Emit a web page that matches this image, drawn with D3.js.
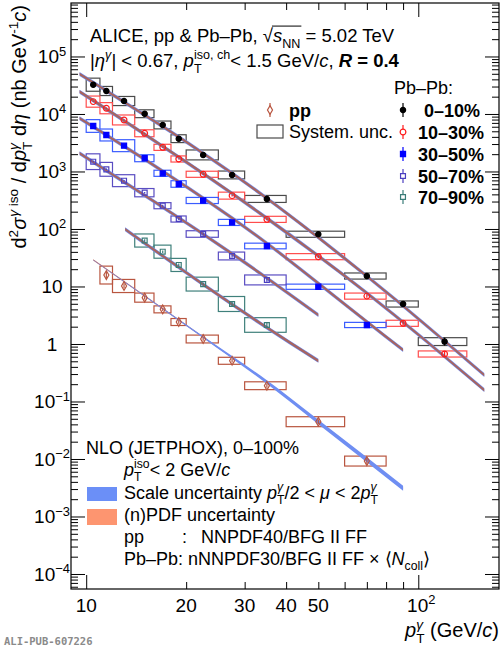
<!DOCTYPE html>
<html>
<head>
<meta charset="utf-8">
<script src="https://cdn.jsdelivr.net/npm/d3@7"></script>
<style>
body{margin:0;background:#fff}
text{font-family:"Liberation Sans",Arial,sans-serif;white-space:pre}
</style>
</head>
<body>
<svg id="chart" width="503" height="650"></svg>
<script>
// ---- data ----
var pbBins = [[10,11],[11,12],[12,14],[14,16],[16,18],[18,20],[20,25],[25,30],[30,40],[40,60],[60,80],[80,100],[100,140]];
var ppBins = [[11,12],[12,14],[14,16],[16,18],[18,20],[20,25],[25,30],[30,40],[40,60],[60,80]];

var ppVal  = [15.8, 10.2, 6.4, 4.0, 2.41, 1.22, 0.51, 0.188, 0.0445, 0.0092];
var ppSys  = [0.43, 0.30, 0.20, 0.15, 0.15, 0.17, 0.15, 0.17, 0.22, 0.22];
var ppStat = [0.15, 0.10, 0.08, 0.07, 0.07, 0.07, 0.07, 0.08, 0.10, 0.12];

var c0010Val  = [32300, 25100, 16800, 10100, 6440, 3720, 1940, 870, 333, 81, 15.2, 4.96, 1.1];
var c0010Sys  = [0.30, 0.20, 0.20, 0.17, 0.17, 0.17, 0.22, 0.17, 0.15, 0.13, 0.13, 0.13, 0.17];
var c0010Stat = [0.01, 0.01, 0.01, 0.01, 0.01, 0.02, 0.02, 0.03, 0.04, 0.05, 0.07, 0.09, 0.17];

var c1030Val  = [16400, 12600, 7870, 4620, 2630, 1650, 894, 380, 147, 33, 6.8, 2.29, 0.67];
var c1030Sys  = [0.25, 0.25, 0.22, 0.15, 0.13, 0.13, 0.13, 0.15, 0.13, 0.13, 0.13, 0.13, 0.13];
var c1030Stat = [0.02, 0.02, 0.02, 0.02, 0.02, 0.02, 0.03, 0.03, 0.04, 0.05, 0.07, 0.09, 0.12];

var c3050Val  = [6180, 4310, 2810, 1700, 930, 606, 313, 130, 50.6, 9.9, 2.14];
var c3050Sys  = [0.29, 0.27, 0.27, 0.15, 0.13, 0.14, 0.13, 0.13, 0.12, 0.11, 0.11];
var c3050Stat = [0.02, 0.02, 0.02, 0.02, 0.03, 0.03, 0.03, 0.04, 0.05, 0.07, 0.10];

var c5070Val  = [1480, 1090, 692, 428, 254, 149, 81.8, 33.9, 13.0];
var c5070Sys  = [0.37, 0.32, 0.27, 0.18, 0.13, 0.13, 0.14, 0.17, 0.22];
var c5070Stat = [0.03, 0.03, 0.03, 0.03, 0.04, 0.04, 0.05, 0.06, 0.08];

var c7090Val  = [63, 40.3, 23.7, 11.0, 4.96, 2.14];
var c7090Sys  = [0.30, 0.30, 0.30, 0.32, 0.35, 0.34];
var c7090Stat = [0.05, 0.05, 0.06, 0.06, 0.08, 0.10];

// NLO JETPHOX curves
var th0010Pt = [9.55, 33.4, 69.9, 158], th0010Val = [49600, 417, 15.2, 0.289];
var th1030Pt = [9.55, 33.4, 70, 158],   th1030Val = [24400, 187, 7.7, 0.158];
var th3050Pt = [9.55, 33.4, 70, 90],    th3050Val = [8420, 68.9, 2.44, 0.787];
var th5070Pt = [9.55, 33.4, 50],        th5070Val = [2073, 17.0, 3.19];
var th7090Pt = [13.1, 33.4, 50],        th7090Val = [99, 2.3, 0.51];
var thPpPt   = [10.5, 22.5, 35, 50, 70, 90];
var thPpVal  = [28.9, 1.32, 0.218, 0.044, 0.0097, 0.0031];
var thPpScale = [0.01, 0.035, 0.075, 0.095, 0.105, 0.11];
var thPpPdf   = [0.025, 0.025, 0.025, 0.025, 0.025, 0.025];
var thPbScale = 0.085, thPbPdf = 0.055;

var xTickMajor = [10, 100];
var xTickMinor = [20, 30, 40, 50, 60, 70, 80, 90];
var xLabels = [10, 20, 30, 40, 50, 100];
var yDecades = [-4, -3, -2, -1, 0, 1, 2, 3, 4, 5];

// ---- layout ----
var svg = d3.select('#chart');
var L = 71, R = 499, T = 3, B = 589;
var x = d3.scaleLog().domain([9, 175]).range([L, R]);
var y = d3.scaleLog().domain([Math.pow(10, -4.261), Math.pow(10, 5.93)]).range([B, T]);

// rich text: segments laid out one after another, sup/sub and stacked indices
function rich(parent, px, py, size, segs, anchor){
  var g = parent.append('g');
  var cx = 0, ps = 0, pe = 0, ov0 = null, ov1 = null;
  segs.forEach(function(s){
    if (typeof s === 'string') s = {t: s};
    var fs = (s.sup || s.sub) ? size * 0.68 : size;
    var dy = s.sup ? -size * 0.42 : (s.sub ? size * 0.3 : 0);
    var sx = s.stack ? ps : cx + (s.dx || 0);
    var t = g.append('text').attr('x', sx).attr('y', dy).attr('font-size', fs)
      .attr('fill', s.fill || '#000')
      .style('font-style', s.i ? 'italic' : 'normal')
      .style('font-weight', s.b ? 'bold' : 'normal')
      .text(s.t);
    var w = t.node().getComputedTextLength();
    if (s.stack) { pe = Math.max(pe, sx + w); cx = pe; }
    else { ps = sx; pe = sx + w; cx = pe; }
    if (s.ov) { if (ov0 === null) ov0 = sx; ov1 = sx + w; }
  });
  if (ov0 !== null) g.append('line').attr('x1', ov0 - 1).attr('x2', ov1 + 1)
    .attr('y1', -size * 0.86).attr('y2', -size * 0.86).attr('stroke', '#000').attr('stroke-width', 1);
  var sh = anchor === 'end' ? -cx : (anchor === 'middle' ? -cx / 2 : 0);
  g.attr('transform', 'translate(' + (px + sh) + ',' + py + ')');
  return g;
}

// series table (styles + arrays above)
var series = [
  {bins: ppBins, val: ppVal, sys: ppSys, stat: ppStat, col: '#b9553f', box: '#b9553f', sym: d3.symbolDiamond, size: 22, fill: 'none'},
  {bins: pbBins, val: c0010Val, sys: c0010Sys, stat: c0010Stat, col: '#000', box: '#4a4a4a', sym: d3.symbolCircle, size: 22, fill: '#000'},
  {bins: pbBins, val: c1030Val, sys: c1030Sys, stat: c1030Stat, col: '#ff1a1a', box: '#ff4d4d', sym: d3.symbolCircle, size: 26, fill: 'none'},
  {bins: pbBins, val: c3050Val, sys: c3050Sys, stat: c3050Stat, col: '#0000ff', box: '#3a5cff', sym: d3.symbolSquare, size: 26, fill: '#0000ff'},
  {bins: pbBins, val: c5070Val, sys: c5070Sys, stat: c5070Stat, col: '#4b3fc0', box: '#5a4dc2', sym: d3.symbolSquare, size: 24, fill: 'none'},
  {bins: pbBins.slice(3), val: c7090Val, sys: c7090Sys, stat: c7090Stat, col: '#3a7c78', box: '#3f807b', sym: d3.symbolSquare, size: 24, fill: 'none'}
];
series.forEach(function(s){
  s.pts = s.val.map(function(v, i){
    var b = s.bins[i];
    return {lo: b[0], hi: b[1], pt: (b[0] + b[1]) / 2, v: v, sys: s.sys[i], st: s.stat[i]};
  });
});

function rep(n, v){ return d3.range(n).map(function(){ return v; }); }
var curves = [
  {pt: th0010Pt, val: th0010Val, scale: rep(4, thPbScale), pdf: rep(4, thPbPdf), pdfTop: true},
  {pt: th1030Pt, val: th1030Val, scale: rep(4, thPbScale), pdf: rep(4, thPbPdf), pdfTop: true},
  {pt: th3050Pt, val: th3050Val, scale: rep(4, thPbScale), pdf: rep(4, thPbPdf), pdfTop: true},
  {pt: th5070Pt, val: th5070Val, scale: rep(3, thPbScale), pdf: rep(3, thPbPdf), pdfTop: true},
  {pt: th7090Pt, val: th7090Val, scale: rep(3, thPbScale), pdf: rep(3, thPbPdf), pdfTop: true},
  {pt: thPpPt, val: thPpVal, scale: thPpScale, pdf: thPpPdf, pdfTop: false}
];

// ---- systematic boxes ----
series.forEach(function(s){
  svg.append('g').selectAll('rect').data(s.pts).enter().append('rect')
    .attr('x', function(d){ return x(d.lo); })
    .attr('width', function(d){ return x(d.hi) - x(d.lo); })
    .attr('y', function(d){ return y(d.v * (1 + d.sys)); })
    .attr('height', function(d){ return y(d.v / (1 + d.sys)) - y(d.v * (1 + d.sys)); })
    .attr('fill', 'none').attr('stroke', s.box).attr('stroke-width', 1.2);
});

// ---- theory bands ----
function band(c, key){
  var pts = c.pt.map(function(p, i){ return {pt: p, v: c.val[i], u: c[key][i]}; });
  return d3.area().curve(d3.curveMonotoneX)
    .x(function(d){ return x(d.pt); })
    .y0(function(d){ return y(d.v / (1 + d.u)); })
    .y1(function(d){ return y(d.v * (1 + d.u)); })(pts);
}
curves.forEach(function(c){
  var order = c.pdfTop ? ['scale', 'pdf'] : ['pdf', 'scale'];
  order.forEach(function(k){
    svg.append('path').attr('d', band(c, k))
      .attr('fill', k === 'scale' ? '#6f8ef2' : (c.pdfTop ? '#a8645e' : '#c8664f'))
      .attr('stroke', 'none');
  });
});

// ---- data markers ----
series.forEach(function(s){
  var g = svg.append('g');
  g.selectAll('line').data(s.pts).enter().append('line')
    .attr('x1', function(d){ return x(d.pt); }).attr('x2', function(d){ return x(d.pt); })
    .attr('y1', function(d){ return y(d.v * (1 + d.st)); })
    .attr('y2', function(d){ return y(d.v / (1 + d.st)); })
    .attr('stroke', s.col).attr('stroke-width', 1.2);
  g.selectAll('path').data(s.pts).enter().append('path')
    .attr('d', d3.symbol().type(s.sym).size(s.size))
    .attr('transform', function(d){ return 'translate(' + x(d.pt) + ',' + y(d.v) + ')'; })
    .attr('fill', s.fill === 'none' ? '#fff' : s.fill).attr('fill-opacity', s.fill === 'none' ? 0 : 1)
    .attr('stroke', s.col).attr('stroke-width', 1.2);
});

// ---- frame & ticks ----
svg.append('rect').attr('x', L).attr('y', T).attr('width', R - L).attr('height', B - T)
  .attr('fill', 'none').attr('stroke', '#000').attr('stroke-width', 1.2);

var yMajor = yDecades.map(function(d){ return Math.pow(10, d); });
var yMinor = [];
d3.range(-5, 6).forEach(function(d){
  d3.range(2, 10).forEach(function(k){
    var v = k * Math.pow(10, d);
    if (v > y.domain()[0] && v < y.domain()[1]) yMinor.push(v);
  });
});
function ticks(axis, vals, len, tr){
  var g = svg.append('g').attr('transform', tr)
    .call(axis.tickValues(vals).tickSizeInner(-len).tickSizeOuter(0).tickFormat(''));
  g.select('.domain').remove();
  g.selectAll('line').attr('stroke', '#000').attr('stroke-width', 1);
}
ticks(d3.axisBottom(x), xTickMajor, 14, 'translate(0,' + B + ')');
ticks(d3.axisBottom(x), xTickMinor, 7, 'translate(0,' + B + ')');
ticks(d3.axisTop(x), xTickMajor, 14, 'translate(0,' + T + ')');
ticks(d3.axisTop(x), xTickMinor, 7, 'translate(0,' + T + ')');
ticks(d3.axisLeft(y), yMajor, 14, 'translate(' + L + ',0)');
ticks(d3.axisLeft(y), yMinor, 7, 'translate(' + L + ',0)');
ticks(d3.axisRight(y), yMajor, 14, 'translate(' + R + ',0)');
ticks(d3.axisRight(y), yMinor, 7, 'translate(' + R + ',0)');

// tick labels
xLabels.forEach(function(v){
  var segs = v === 100 ? ['10', {t: '2', sup: 1}] : [String(v)];
  rich(svg, x(v) + (v === 100 ? 3 : 0), 612, 19, segs, 'middle');
});
yDecades.forEach(function(d){
  var segs = d === 0 ? ['1'] : (d === 1 ? ['10'] : ['10', {t: d < 0 ? '\u2212' + (-d) : String(d), sup: 1}]);
  rich(svg, 52, y(Math.pow(10, d)) + 7, 19, segs, 'middle');
});

// axis titles
rich(svg, R, 637, 20, [{t: 'p', i: 1}, {t: '\u03b3', i: 1, sup: 1}, {t: 'T', sub: 1, stack: 1}, ' (GeV/', {t: 'c', i: 1}, ')'], 'end');
var yt = svg.append('g').attr('transform', 'translate(26,5) rotate(-90)');
rich(yt, 0, 0, 20, ['d', {t: '2', sup: 1}, {t: '\u03c3', i: 1}, {t: '\u03b3', i: 1, sup: 1, dx: 1}, {t: ' iso', sup: 1},
  ' / d', {t: 'p', i: 1}, {t: '\u03b3', i: 1, sup: 1}, {t: 'T', sub: 1, stack: 1}, ' d', {t: '\u03b7', i: 1},
  ' (nb GeV', {t: '-1', sup: 1}, {t: 'c', i: 1}, ')'], 'end');

// header
rich(svg, 90, 42, 18.5, ['ALICE, pp & Pb\u2013Pb, \u221a', {t: 's', i: 1, ov: 1}, {t: 'NN', sub: 1, ov: 1}, ' = 5.02 TeV']);
rich(svg, 90, 67, 18.5, ['|', {t: '\u03b7', i: 1}, {t: '\u03b3', i: 1, sup: 1}, '| < 0.67, ', {t: 'p', i: 1},
  {t: 'iso, ch', sup: 1}, {t: 'T', sub: 1, stack: 1}, '< 1.5 GeV/', {t: 'c', i: 1}, ', ',
  {t: 'R', i: 1, b: 1}, {t: ' = 0.4', b: 1}]);

// legend: data
var legRows = [110, 132, 154, 176, 197];
var legNames = ['0\u201310%', '10\u201330%', '30\u201350%', '50\u201370%', '70\u201390%'];
function legMarker(s, cx, cy){
  svg.append('line').attr('x1', cx).attr('x2', cx).attr('y1', cy - 7).attr('y2', cy + 7)
    .attr('stroke', s.col).attr('stroke-width', 1.2);
  svg.append('path').attr('d', d3.symbol().type(s.sym).size(s.size)())
    .attr('transform', 'translate(' + cx + ',' + cy + ')')
    .attr('fill', s.fill === 'none' ? '#fff' : s.fill).attr('stroke', s.col).attr('stroke-width', 1.2);
}
legMarker(series[0], 270, 110);
rich(svg, 289, 116.5, 18, [{t: 'pp', b: 1}]);
svg.append('rect').attr('x', 257).attr('y', 125).attr('width', 26).attr('height', 13)
  .attr('fill', 'none').attr('stroke', '#4a4a4a').attr('stroke-width', 1.2);
rich(svg, 289, 138, 18, ['System. unc.']);
rich(svg, 394, 94, 18, ['Pb\u2013Pb:']);
legNames.forEach(function(n, i){
  legMarker(series[i + 1], 403, legRows[i]);
  rich(svg, i === 0 ? 424 : 418, legRows[i] + 6.5, 18, [{t: n, b: 1}]);
});

// legend: theory
rich(svg, 86, 454, 18, ['NLO (JETPHOX), 0\u2013100%']);
rich(svg, 124, 476, 18, [{t: 'p', i: 1}, {t: 'iso', sup: 1}, {t: 'T', sub: 1, stack: 1}, '< 2 GeV/', {t: 'c', i: 1}]);
svg.append('rect').attr('x', 87).attr('y', 487).attr('width', 30).attr('height', 14).attr('fill', '#6b8ff7');
rich(svg, 124, 499, 18, ['Scale uncertainty ', {t: 'p', i: 1}, {t: '\u03b3', i: 1, sup: 1}, {t: 'T', sub: 1, stack: 1},
  '/2 < ', {t: '\u03bc', i: 1}, ' < 2', {t: 'p', i: 1}, {t: '\u03b3', i: 1, sup: 1}, {t: 'T', sub: 1, stack: 1}]);
svg.append('rect').attr('x', 87).attr('y', 509).attr('width', 30).attr('height', 16).attr('fill', '#fd9570');
rich(svg, 124, 521, 18, ['(n)PDF uncertainty']);
rich(svg, 124, 543, 18, ['pp']);
rich(svg, 182, 543, 18, [':']);
rich(svg, 201, 543, 18, ['NNPDF40/BFG II FF']);
rich(svg, 124, 565, 18, ['Pb\u2013Pb: nNNPDF30/BFG II FF \u00d7 \u27e8', {t: 'N', i: 1}, {t: 'coll', sub: 1}, '\u27e9']);

svg.append('text').attr('x', 4).attr('y', 645).attr('font-size', 10.5)
  .style('font-family', '"DejaVu Sans Mono",monospace').style('font-weight', 'bold')
  .attr('fill', '#8a8a8a').text('ALI-PUB-607226');
</script>
</body>
</html>
